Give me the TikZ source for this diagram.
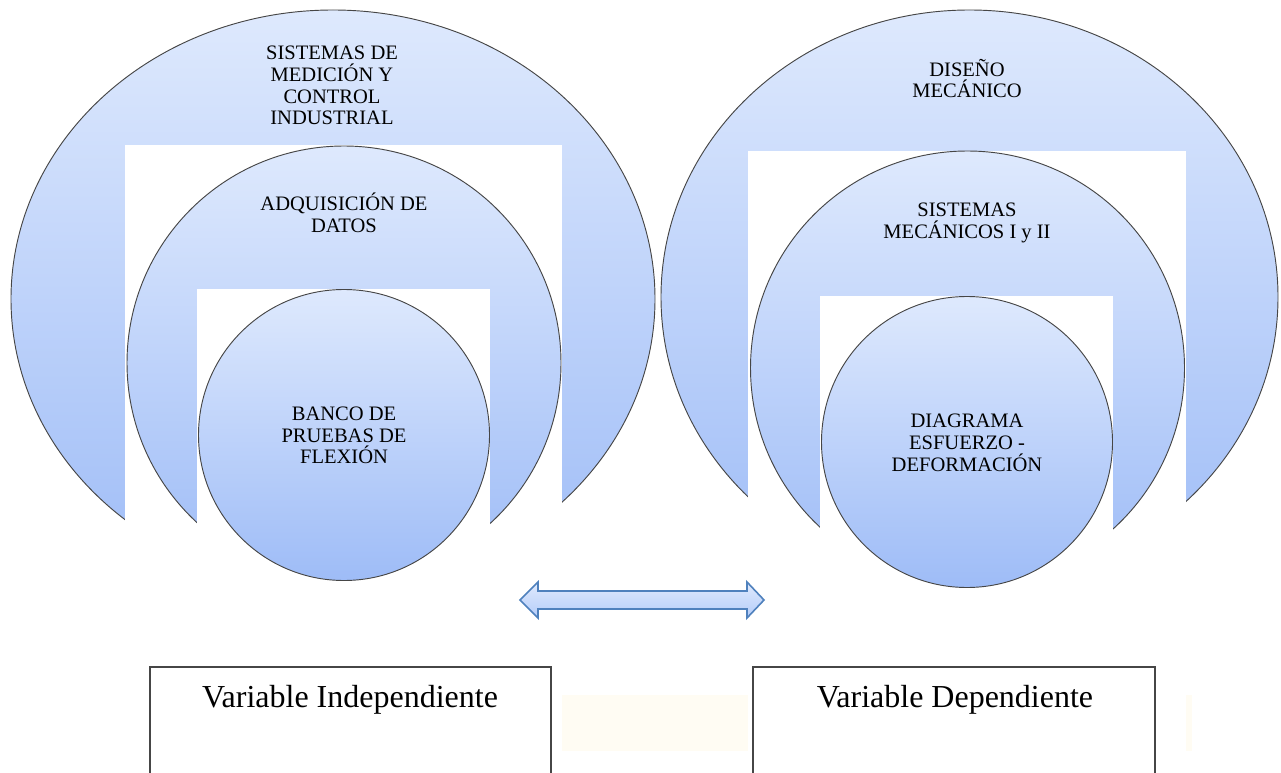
\documentclass[tikz,border=0pt]{standalone}
\usepackage{fontspec}
\setmainfont{Liberation Serif}
\definecolor{ringtop}{RGB}{222,233,253}
\definecolor{ringbot}{RGB}{158,188,247}
\definecolor{ringline}{RGB}{70,70,70}
\definecolor{arrowline}{RGB}{79,129,189}
\definecolor{arrowtop}{RGB}{224,234,253}
\definecolor{arrowbot}{RGB}{180,204,249}
\definecolor{band}{RGB}{255,252,243}
\begin{document}
\begin{tikzpicture}[x=0.75pt,y=-0.75pt,
  ring/.style={top color=ringtop,bottom color=ringbot,draw=ringline,line width=0.7pt},
  mask/.style={fill=white},
  label/.style={align=center,font=\fontsize{15.4}{16.4}\selectfont,inner sep=0pt},
  varbox/.style={draw=ringline,fill=white,line width=0.8pt},
  vartext/.style={font=\fontsize{24}{28}\selectfont,inner sep=0pt,anchor=base}]
\useasboundingbox (0,0) rectangle (1281,773);
\clip (0,0) rectangle (1281,773);

% faint band behind the two variable boxes
\fill[band] (127,695) rectangle (1192,751);

% left group: nested rings
\path[ring] (333,299) ellipse [x radius=322, y radius=289];
\fill[mask] (125,145) rectangle (562,780);
\path[ring] (344,363) circle [radius=217];
\fill[mask] (197,289) rectangle (490,780);
\path[ring] (344,435) circle [radius=145.5];

% right group: nested rings
\path[ring] (969.5,297) ellipse [x radius=308.5, y radius=287];
\fill[mask] (748,151) rectangle (1186,780);
\path[ring] (967.5,368) circle [radius=217];
\fill[mask] (820,296) rectangle (1113,780);
\path[ring] (967,442) circle [radius=145.5];

% ring labels
\node[label] (medicion) at (332,85.4) {SISTEMAS DE\\MEDICIÓN Y\\CONTROL\\INDUSTRIAL};
\node[label] (adquisicion) at (344,212.5) {ADQUISICIÓN DE\\DATOS};
\node[label] (banco) at (344,435.4) {BANCO DE\\PRUEBAS DE\\FLEXIÓN};
\node[label] (diseno) at (967,78.5) {DISEÑO\\MECÁNICO};
\node[label] (sistemas) at (967,223) {SISTEMAS\\MECÁNICOS I y II};
\node[label] (diagrama) at (967,443) {DIAGRAMA\\ESFUERZO -\\DEFORMACIÓN};

% double arrow between the two groups
\path[top color=arrowtop,bottom color=arrowbot,draw=arrowline,line width=1.2pt,line join=miter]
  (520,600) -- (538,582) -- (538,591) -- (747,591) -- (747,582) -- (764,600)
  -- (747,618) -- (747,609) -- (538,609) -- (538,618) -- cycle;

% variable boxes
\draw[varbox] (150,667) rectangle (551,790);
\draw[varbox] (753,667) rectangle (1155,790);
\node[vartext] (indep) at (350,707) {Variable Independiente};
\node[vartext] (dep) at (955,707) {Variable Dependiente};
\end{tikzpicture}
\end{document}
